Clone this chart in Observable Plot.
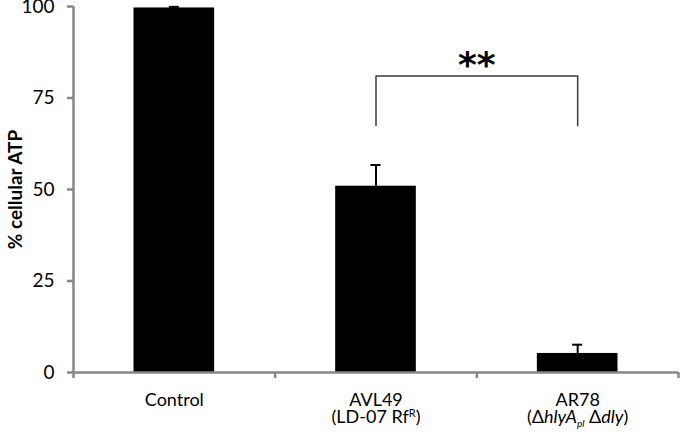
<!DOCTYPE html>
<html>
<head>
<meta charset="utf-8">
<script src="https://cdn.jsdelivr.net/npm/d3@7"></script>
<script src="https://cdn.jsdelivr.net/npm/@observablehq/plot@0.6"></script>
<style>
  html, body { margin: 0; padding: 0; background: #fff; }
  #chart svg { display: block; }
</style>
</head>
<body>
<div id="chart"></div>
<script>
// ---- data ----
const categories = ["Control", "AVL49", "AR78"];
const subLabels = ["", "(LD-07 RfR)", "(ΔhlyApl Δdly)"];
const values = [99.6, 50.9, 5.2];
const errors = [0.3, 5.8, 2.4];
const yTicks = [0, 25, 50, 75, 100];
const yLabel = "% cellular ATP";
const significance = "**";
const bracketPair = ["AVL49", "AR78"];
const bracketTop = 81;
const bracketBottom = 67.5;

// ---- derived table ----
const data = categories.map((c, i) => ({
  cat: c, i, center: i + 0.5, value: values[i], err: errors[i],
  label: subLabels[i] ? c + "\n" + subLabels[i] : c
}));
const b0 = categories.indexOf(bracketPair[0]) + 0.5;
const b1 = categories.indexOf(bracketPair[1]) + 0.5;
const bracket = [
  {x: b0, y: bracketBottom}, {x: b0, y: bracketTop},
  {x: b1, y: bracketTop}, {x: b1, y: bracketBottom}
];

const W = 680, H = 438;
const mL = 73, mR = 2, mT = 6, mB = 66;
const barHalf = 0.2;                       // bar width = 40% of category slot
const capHalf = 5 / ((W - mL - mR) / categories.length); // 5px half-cap
const axisGray = "#878787";
const font = "Lato, 'Open Sans', sans-serif";

const plot = Plot.plot({
  width: W, height: H,
  marginLeft: mL, marginRight: mR, marginTop: mT, marginBottom: mB,
  style: {fontFamily: font, fontSize: "18px", color: "black", background: "white"},
  x: {domain: [0, categories.length], axis: null},
  y: {domain: [0, 100], axis: null},
  marks: [
    // bars
    Plot.rectY(data, {x1: d => d.center - barHalf, x2: d => d.center + barHalf, y: "value", fill: "black"}),
    // error bars
    Plot.ruleX(data, {x: "center", y1: "value", y2: d => d.value + d.err, stroke: "black", strokeWidth: 2}),
    Plot.ruleY(data, {y: d => d.value + d.err, x1: d => d.center - capHalf, x2: d => d.center + capHalf, stroke: "black", strokeWidth: 2}),
    // axes lines
    Plot.ruleX([0], {stroke: axisGray, strokeWidth: 2.5}),
    Plot.ruleY([0], {stroke: axisGray, strokeWidth: 2.5}),
    Plot.axisY({ticks: yTicks, tickSize: 6, tickPadding: 13, stroke: axisGray, strokeWidth: 2.5, fill: "black", fontSize: 19, label: null}),
    Plot.axisX({ticks: d3.range(categories.length + 1), tickSize: 6, tickFormat: () => "", stroke: axisGray, strokeWidth: 2.5, label: null}),
    Plot.axisX({ticks: data.map(d => d.center), tickSize: 0, tickPadding: 21, fontSize: 18, fill: "black", label: null,
      lineHeight: 0.97, tickFormat: v => data.find(d => d.center === v).label}),
    // y axis title
    Plot.text([yLabel], {frameAnchor: "left", text: d => d, rotate: -90, dx: -58, textAnchor: "middle",
      fontSize: 19, fontWeight: "bold", fill: "black"}),
    // significance bracket
    Plot.line(bracket, {x: "x", y: "y", stroke: "#3a3a3a", strokeWidth: 1.5}),
    Plot.text([significance], {x: (b0 + b1) / 2, y: bracketTop, text: d => d, lineAnchor: "bottom",
      fontSize: 36, fontWeight: "bold", fontFamily: "DejaVu Sans", dy: 1})
  ]
});

// rich formatting of the second label lines
plot.querySelectorAll("tspan, text").forEach(el => {
  if (el.childElementCount) return;
  const t = el.textContent;
  if (t === subLabels[1]) {
    el.innerHTML = '(LD-07 Rf<tspan dy="-6" font-size="11">R</tspan><tspan dy="6">)</tspan>';
  } else if (t === subLabels[2]) {
    el.innerHTML = '(Δ<tspan font-style="italic">hlyA</tspan><tspan dy="4" font-size="10" font-style="italic">pl</tspan><tspan dy="-4"> Δ</tspan><tspan font-style="italic">dly</tspan>)';
  }
});
document.getElementById("chart").appendChild(plot);
</script>
</body>
</html>
